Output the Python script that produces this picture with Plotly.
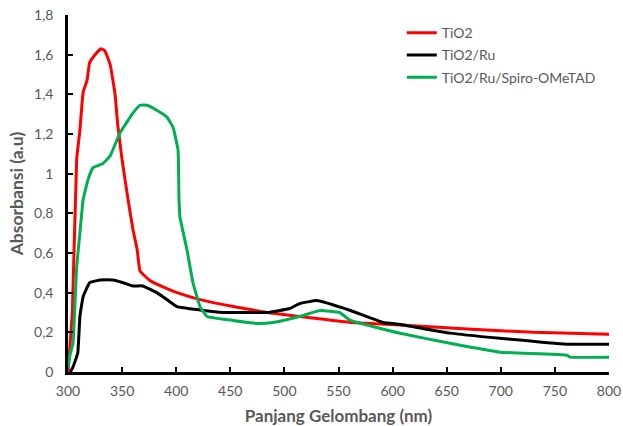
import plotly.graph_objects as go

tio2_x = [300, 304, 308, 311, 314, 317.6, 320, 325, 330.5, 334, 339, 343.5, 346, 350, 355.5, 360, 364, 366.5,
          376, 391.5, 400.7, 422, 452.5, 484, 514, 530, 561, 607, 669, 730, 800]
tio2_y = [0.0, 0.3, 1.07, 1.22, 1.41, 1.47, 1.56, 1.60, 1.63, 1.62, 1.55, 1.40, 1.245, 1.07, 0.87, 0.72, 0.615, 0.51,
          0.46, 0.42, 0.40, 0.365, 0.33, 0.30, 0.28, 0.27, 0.25, 0.237, 0.217, 0.20, 0.19]

ru_x = [302, 304.6, 309, 311, 314, 320, 329.6, 341.6, 351, 360, 369, 382, 391.5, 400.7, 422, 443, 468, 484,
        505, 514, 530, 561, 591, 607, 653, 699, 761, 800]
ru_y = [0.0, 0.025, 0.095, 0.28, 0.38, 0.45, 0.464, 0.464, 0.45, 0.434, 0.434, 0.40, 0.365, 0.33, 0.313, 0.30,
        0.30, 0.30, 0.32, 0.345, 0.36, 0.31, 0.25, 0.24, 0.196, 0.17, 0.14, 0.14]

spiro_x = [300, 302, 304.6, 308, 311, 314, 318.5, 323, 332, 339, 348, 360, 366.5, 373, 382, 391.5, 397, 401.7,
           402.6, 403.5, 410, 415.5, 422, 428.5, 452.5, 474.7, 489.5, 514, 533, 551, 561, 607, 653, 699, 761,
           764, 800]
spiro_y = [0.02, 0.09, 0.145, 0.53, 0.70, 0.87, 0.97, 1.03, 1.05, 1.09, 1.205, 1.305, 1.345, 1.345, 1.32, 1.285,
           1.235, 1.12, 0.87, 0.78, 0.615, 0.45, 0.33, 0.28, 0.26, 0.245, 0.25, 0.28, 0.31, 0.30, 0.26, 0.195,
           0.145, 0.10, 0.085, 0.075, 0.075]

series = [
    ("TiO2", tio2_x, tio2_y, "#FF0000"),
    ("TiO2/Ru", ru_x, ru_y, "#000000"),
    ("TiO2/Ru/Spiro-OMeTAD", spiro_x, spiro_y, "#00B050"),
]

fig = go.Figure()
for i, (name, xs, ys, col) in enumerate(series):
    fig.add_trace(go.Scatter(x=xs, y=ys, mode="lines", name=name, legendgroup=f"g{i}",
                             line=dict(color=col, width=3, shape="spline", smoothing=0.3)))

font_family = "Lato, Open Sans, sans-serif"
fig.update_layout(
    width=623, height=426,
    margin=dict(l=68, r=14, t=15, b=54),
    paper_bgcolor="white", plot_bgcolor="white",
    separators=", ",
    font=dict(family=font_family, size=14, color="#595959"),
    showlegend=True,
    legend=dict(x=0.617, y=0.994, xanchor="left", yanchor="top", bgcolor="rgba(0,0,0,0)",
                font=dict(size=14, color="#595959"), tracegroupgap=1, itemwidth=30),
    xaxis=dict(range=[300, 800], dtick=50, tick0=300, showgrid=False, zeroline=False, automargin=False,
               showline=True, linecolor="black", linewidth=2.5, ticklabeloverflow="allow",
               ticks="inside", ticklen=5, tickwidth=2, tickcolor="black", ticklabelstandoff=4,
               tickfont=dict(size=14, color="#595959"),
               title=dict(text="<b>Panjang Gelombang (nm)</b>", font=dict(size=17, color="#595959"), standoff=16)),
    yaxis=dict(range=[0, 1.8], dtick=0.2, tick0=0, showgrid=False, zeroline=False, automargin=False,
               showline=True, linecolor="black", linewidth=2.5, ticklabeloverflow="allow",
               ticks="inside", ticklen=5, tickwidth=2, tickcolor="black", ticklabelstandoff=9,
               tickfont=dict(size=14, color="#595959"),
               title=dict(text="<b>Absorbansi (a.u)</b>", font=dict(size=17.5, color="#595959"), standoff=6)),
)

fig.write_html("out.html", config={"displayModeBar": False},
               post_script="document.body.style.margin='0';document.body.style.overflow='hidden';")
